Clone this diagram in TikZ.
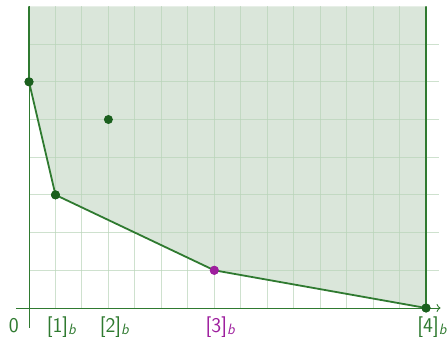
\documentclass[tikz,border=0pt]{standalone}
\usetikzlibrary{arrows.meta}
\definecolor{lnG}{HTML}{2F7A30}
\definecolor{dotG}{HTML}{1B601E}
\definecolor{fillG}{HTML}{DAE6DA}
\definecolor{gridG}{HTML}{B9D4B9}
\definecolor{purp}{HTML}{9E1F9E}
\newcommand{\subb}{\raisebox{-2.5pt}{\fontsize{15}{15}\selectfont\itshape b}}
\begin{document}
\begin{tikzpicture}[x=26.47pt,y=37.7pt,
  gridline/.style={gridG,line width=0.9pt,opacity=0.7},
  axisline/.style={lnG,line width=0.9pt},
  bound/.style={lnG,line width=1.8pt,line join=round},
  dotn/.style={circle,fill=dotG,inner sep=0pt,minimum size=9pt},
  dotp/.style={circle,fill=purp,inner sep=0pt,minimum size=9pt},
  lab/.style={font=\sffamily\fontsize{21}{24}\selectfont,anchor=base,inner sep=0pt}]
\useasboundingbox (-1.0956,-0.7692) rectangle (15.7915,8.1698);
\fill[fillG] (0,8) -- (0,6) -- (1,3) -- (7,1) -- (15,0) -- (15,8) -- cycle;
\foreach \i in {1,...,15} \draw[gridline] (\i,0) -- (\i,8);
\foreach \j in {1,...,7} \draw[gridline] (0,\j) -- (15.5,\j);
\coordinate (xs) at (-0.5,0);
\coordinate (xe) at (15.55,0);
\coordinate (ys) at (0,-0.52);
\coordinate (ye) at (0,8);
\draw[axisline,-{To[length=4pt,width=8pt]}] (xs) -- (xe);
\draw[axisline] (ys) -- (ye);
\coordinate (top0) at (0,8);
\coordinate (top15) at (15,8);
\node[dotn] (p0) at (0,6) {};
\node[dotn] (p1) at (1,3) {};
\node[dotn] (p2) at (3,5) {};
\node[dotp] (p3) at (7,1) {};
\node[dotn] (p4) at (15,0) {};
\draw[bound] (top0) -- (p0.center) -- (p1.center) -- (p3.center) -- (p4.center) -- (top15);
\node[dotn] at (0,6) {};
\node[dotn] at (1,3) {};
\node[dotp] at (7,1) {};
\node[dotn] at (15,0) {};
\node[lab,text=lnG] (l0) at (-0.57,-0.64) {0};
\node[lab,text=lnG] (l1) at (1.22,-0.64) {[1]\subb};
\node[lab,text=lnG] (l2) at (3.22,-0.64) {[2]\subb};
\node[lab,text=purp] (l3) at (7.22,-0.64) {[3]\subb};
\node[lab,text=lnG] (l4) at (15.22,-0.64) {[4]\subb};
\end{tikzpicture}
\end{document}
